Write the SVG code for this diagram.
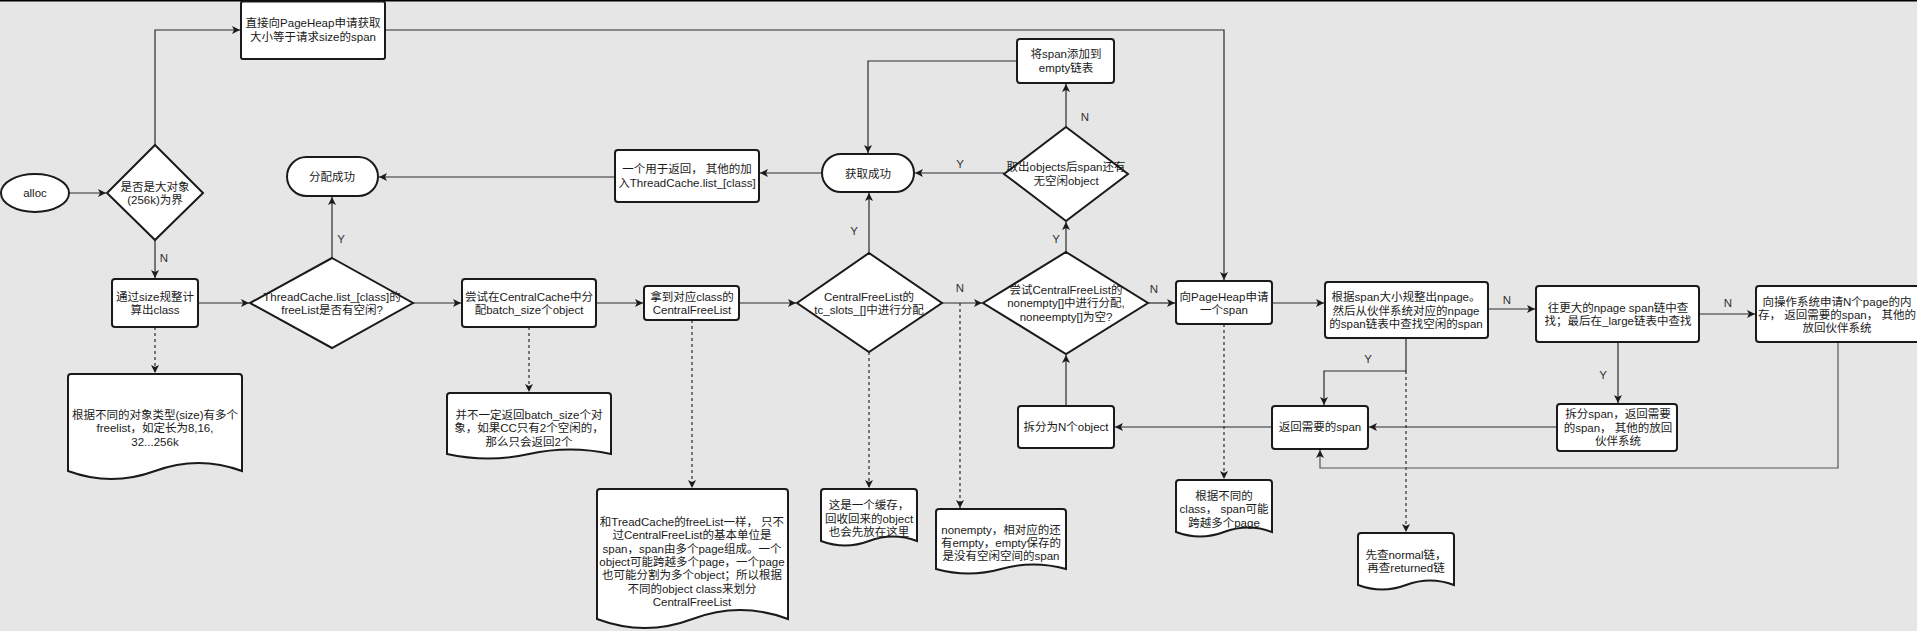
<svg xmlns="http://www.w3.org/2000/svg" width="1917" height="631" viewBox="0 0 1917 631">
<defs>
<marker id="arr" markerUnits="userSpaceOnUse" markerWidth="10" markerHeight="10" refX="8" refY="4" orient="auto">
<path d="M0,0 L8,4 L0,8 L2,4 Z" fill="#1a1a1a"/>
</marker>
</defs>
<style>
.bg{fill:#e6e6e6}
.s{fill:#fff;stroke:#1a1a1a;stroke-width:2}
.t{font-family:"Liberation Sans","Noto Sans CJK SC",sans-serif;font-size:11.5px;fill:#1a1a1a;text-anchor:middle}
.c{fill:none;stroke:#2a2a2a;stroke-width:1.2;marker-end:url(#arr)}
.d{fill:none;stroke:#2a2a2a;stroke-width:1.2;stroke-dasharray:3 3;marker-end:url(#arr)}
.g{fill:none;stroke:#555;stroke-width:1.2;marker-end:url(#arr)}
.l{font-family:"Liberation Sans",sans-serif;font-size:11.5px;fill:#333;text-anchor:middle}
</style>
<rect class="bg" x="0" y="0" width="1917" height="631"/>
<rect x="0" y="0" width="1917" height="1.5" fill="#000"/>

<g id="connectors">
<path class="c" d="M69,193 H106"/>
<path class="c" d="M155,145 V30 H240"/>
<path class="c" d="M155,240 V278"/>
<path class="c" d="M198,303 H249"/>
<path class="d" d="M155,327 V373"/>
<path class="c" d="M332,258 V197"/>
<path class="c" d="M413,303 H461"/>
<path class="d" d="M529,327 V392"/>
<path class="c" d="M596,303 H643"/>
<path class="d" d="M692,320 V488"/>
<path class="c" d="M739,303 H796"/>
<path class="c" d="M869,253 V193"/>
<path class="d" d="M869,352 V488"/>
<path class="c" d="M942,303 H982"/>
<path class="d" d="M960,303 V508"/>
<path class="c" d="M822,173 H760"/>
<path class="c" d="M615,177 H379"/>
<path class="c" d="M1004,173 H915"/>
<path class="c" d="M1066,127 V84"/>
<path class="c" d="M1017,61 H868 V153"/>
<path class="c" d="M1066,252 V222"/>
<path class="c" d="M1148,303 H1175"/>
<path class="c" d="M385,30 H1224 V280"/>
<path class="d" d="M1224,324 V479"/>
<path class="c" d="M1272,303 H1324"/>
<path class="c" d="M1066,406 V355"/>
<path class="c" d="M1272,427 H1115"/>
<path class="c" d="M1406,338 V371 H1324 V405"/>
<path class="d" d="M1406,371 V532"/>
<path class="c" d="M1488,309 H1535"/>
<path class="c" d="M1699,314 H1755"/>
<path class="c" d="M1618,342 V403"/>
<path class="c" d="M1557,427 H1369"/>
<path class="g" d="M1838,342 V468 H1320 V450"/>
<text class="l" x="164" y="262">N</text>
<text class="l" x="341" y="243">Y</text>
<text class="l" x="854" y="235">Y</text>
<text class="l" x="960" y="292">N</text>
<text class="l" x="1056" y="243">Y</text>
<text class="l" x="1085" y="121">N</text>
<text class="l" x="960" y="168">Y</text>
<text class="l" x="1154" y="293">N</text>
<text class="l" x="1507" y="304">N</text>
<text class="l" x="1728" y="307">N</text>
<text class="l" x="1368" y="363">Y</text>
<text class="l" x="1603" y="379">Y</text>
</g>

<g id="n-alloc"><ellipse class="s" cx="35" cy="193" rx="34" ry="19"/><text class="t" x="35" y="197">alloc</text></g>
<g id="n-big"><path class="s" d="M155,145 L203,193 L155,240 L107,193 Z"/><text class="t" x="155" y="191">是否是大对象</text><text class="t" x="155" y="204">(256k)为界</text></g>
<g id="n-direct"><rect class="s" x="241" y="1.5" width="144" height="57.5" rx="2"/><text class="t" x="313" y="27">直接向PageHeap申请获取</text><text class="t" x="313" y="41">大小等于请求size的span</text></g>
<g id="n-calc"><rect class="s" x="112" y="279" width="86" height="48" rx="3"/><text class="t" x="155" y="301">通过size规整计</text><text class="t" x="155" y="314">算出class</text></g>
<g id="n-doc1"><path class="s" d="M71,374 H239 Q242,374 242,377 V471 Q198.5,455 155,471 Q111.5,487 68,471 V377 Q68,374 71,374 Z"/><text class="t" x="155" y="419">根据不同的对象类型(size)有多个</text><text class="t" x="155" y="432">freelist，如定长为8,16,</text><text class="t" x="155" y="446">32...256k</text></g>
<g id="n-ok"><rect class="s" x="287" y="157" width="91" height="39" rx="19.5"/><text class="t" x="332" y="181">分配成功</text></g>
<g id="n-tc"><path class="s" d="M332,258 L413,303 L332,348 L250,303 Z"/><text class="t" x="332" y="301">ThreadCache.list_[class]的</text><text class="t" x="332" y="314">freeList是否有空闲?</text></g>
<g id="n-try-cc"><rect class="s" x="462" y="279" width="134" height="48" rx="3"/><text class="t" x="529" y="301">尝试在CentralCache中分</text><text class="t" x="529" y="314">配batch_size个object</text></g>
<g id="n-doc2"><path class="s" d="M450,393 H608 Q611,393 611,396 V454 Q570,445 529,454 Q488,463 447,454 V396 Q447,393 450,393 Z"/><text class="t" x="529" y="419">并不一定返回batch_size个对</text><text class="t" x="529" y="432">象，如果CC只有2个空闲的，</text><text class="t" x="529" y="446">那么只会返回2个</text></g>
<g id="n-cfl"><rect class="s" x="644" y="286" width="95" height="34" rx="3"/><text class="t" x="692" y="301">拿到对应class的</text><text class="t" x="692" y="314">CentralFreeList</text></g>
<g id="n-doc3"><path class="s" d="M600,489 H785 Q788,489 788,492 V619 Q740,601 692.5,619 Q645,637 597,619 V492 Q597,489 600,489 Z"/><text class="t" x="692" y="526">和TreadCache的freeList一样， 只不</text><text class="t" x="692" y="539">过CentralFreeList的基本单位是</text><text class="t" x="692" y="553">span，span由多个page组成。一个</text><text class="t" x="692" y="566">object可能跨越多个page，一个page</text><text class="t" x="692" y="579">也可能分割为多个object；所以根据</text><text class="t" x="692" y="593">不同的object class来划分</text><text class="t" x="692" y="606">CentralFreeList</text></g>
<g id="n-back"><rect class="s" x="615" y="150" width="144" height="52" rx="3"/><text class="t" x="687" y="173">一个用于返回， 其他的加</text><text class="t" x="687" y="187">入ThreadCache.list_[class]</text></g>
<g id="n-got"><rect class="s" x="822" y="154" width="92" height="38" rx="19"/><text class="t" x="868" y="178">获取成功</text></g>
<g id="n-slots"><path class="s" d="M869,253 L942,303 L869,352 L797,303 Z"/><text class="t" x="869" y="301">CentralFreeList的</text><text class="t" x="869" y="314">tc_slots_[]中进行分配</text></g>
<g id="n-doc4"><path class="s" d="M824,489 H914 Q917,489 917,492 V541 Q893,532 869,541 Q845,550 821,541 V492 Q821,489 824,489 Z"/><text class="t" x="869" y="509">这是一个缓存，</text><text class="t" x="869" y="523">回收回来的object</text><text class="t" x="869" y="536">也会先放在这里</text></g>
<g id="n-empty"><rect class="s" x="1017" y="39" width="97" height="44" rx="3"/><text class="t" x="1066" y="58">将span添加到</text><text class="t" x="1066" y="72">empty链表</text></g>
<g id="n-take"><path class="s" d="M1066,127 L1128,174 L1066,221 L1004,174 Z"/><text class="t" x="1066" y="171">取出objects后span还有</text><text class="t" x="1066" y="185">无空闲object</text></g>
<g id="n-nonempty"><path class="s" d="M1066,252 L1148,303 L1066,354 L983,303 Z"/><text class="t" x="1066" y="294">尝试CentralFreeList的</text><text class="t" x="1066" y="307">nonempty[]中进行分配,</text><text class="t" x="1066" y="321">noneempty[]为空?</text></g>
<g id="n-doc5"><path class="s" d="M939,509 H1063 Q1066,509 1066,512 V569 Q1033.5,560 1001,569 Q968.5,578 936,569 V512 Q936,509 939,509 Z"/><text class="t" x="1001" y="534">nonempty，相对应的还</text><text class="t" x="1001" y="547">有empty，empty保存的</text><text class="t" x="1001" y="560">是没有空闲空间的span</text></g>
<g id="n-split-obj"><rect class="s" x="1018" y="406" width="96" height="42" rx="3"/><text class="t" x="1066" y="431">拆分为N个object</text></g>
<g id="n-ph"><rect class="s" x="1176" y="281" width="96" height="43" rx="3"/><text class="t" x="1224" y="301">向PageHeap申请</text><text class="t" x="1224" y="314">一个span</text></g>
<g id="n-doc6"><path class="s" d="M1179,480 H1269 Q1272,480 1272,483 V532 Q1248,523 1224,532 Q1200,541 1176,532 V483 Q1176,480 1179,480 Z"/><text class="t" x="1224" y="500">根据不同的</text><text class="t" x="1224" y="513">class， span可能</text><text class="t" x="1224" y="527">跨越多个page</text></g>
<g id="n-npage"><rect class="s" x="1325" y="282" width="163" height="56" rx="3"/><text class="t" x="1406" y="301">根据span大小规整出npage。</text><text class="t" x="1406" y="315">然后从伙伴系统对应的npage</text><text class="t" x="1406" y="328">的span链表中查找空闲的span</text></g>
<g id="n-ret"><rect class="s" x="1272" y="406" width="96" height="43" rx="3"/><text class="t" x="1320" y="431">返回需要的span</text></g>
<g id="n-doc7"><path class="s" d="M1361,533 H1451 Q1454,533 1454,536 V585 Q1430,576 1406,585 Q1382,594 1358,585 V536 Q1358,533 1361,533 Z"/><text class="t" x="1406" y="559">先查normal链，</text><text class="t" x="1406" y="572">再查returned链</text></g>
<g id="n-larger"><rect class="s" x="1536" y="286" width="163" height="56" rx="3"/><text class="t" x="1618" y="312">往更大的npage span链中查</text><text class="t" x="1618" y="325">找；最后在_large链表中查找</text></g>
<g id="n-split-span"><rect class="s" x="1557" y="404" width="120" height="47" rx="3"/><text class="t" x="1618" y="418">拆分span，返回需要</text><text class="t" x="1618" y="432">的span， 其他的放回</text><text class="t" x="1618" y="445">伙伴系统</text></g>
<g id="n-os"><rect class="s" x="1756" y="286" width="164" height="56" rx="3"/><text class="t" x="1837" y="306">向操作系统申请N个page的内</text><text class="t" x="1837" y="319">存， 返回需要的span， 其他的</text><text class="t" x="1837" y="332">放回伙伴系统</text></g>
</svg>
